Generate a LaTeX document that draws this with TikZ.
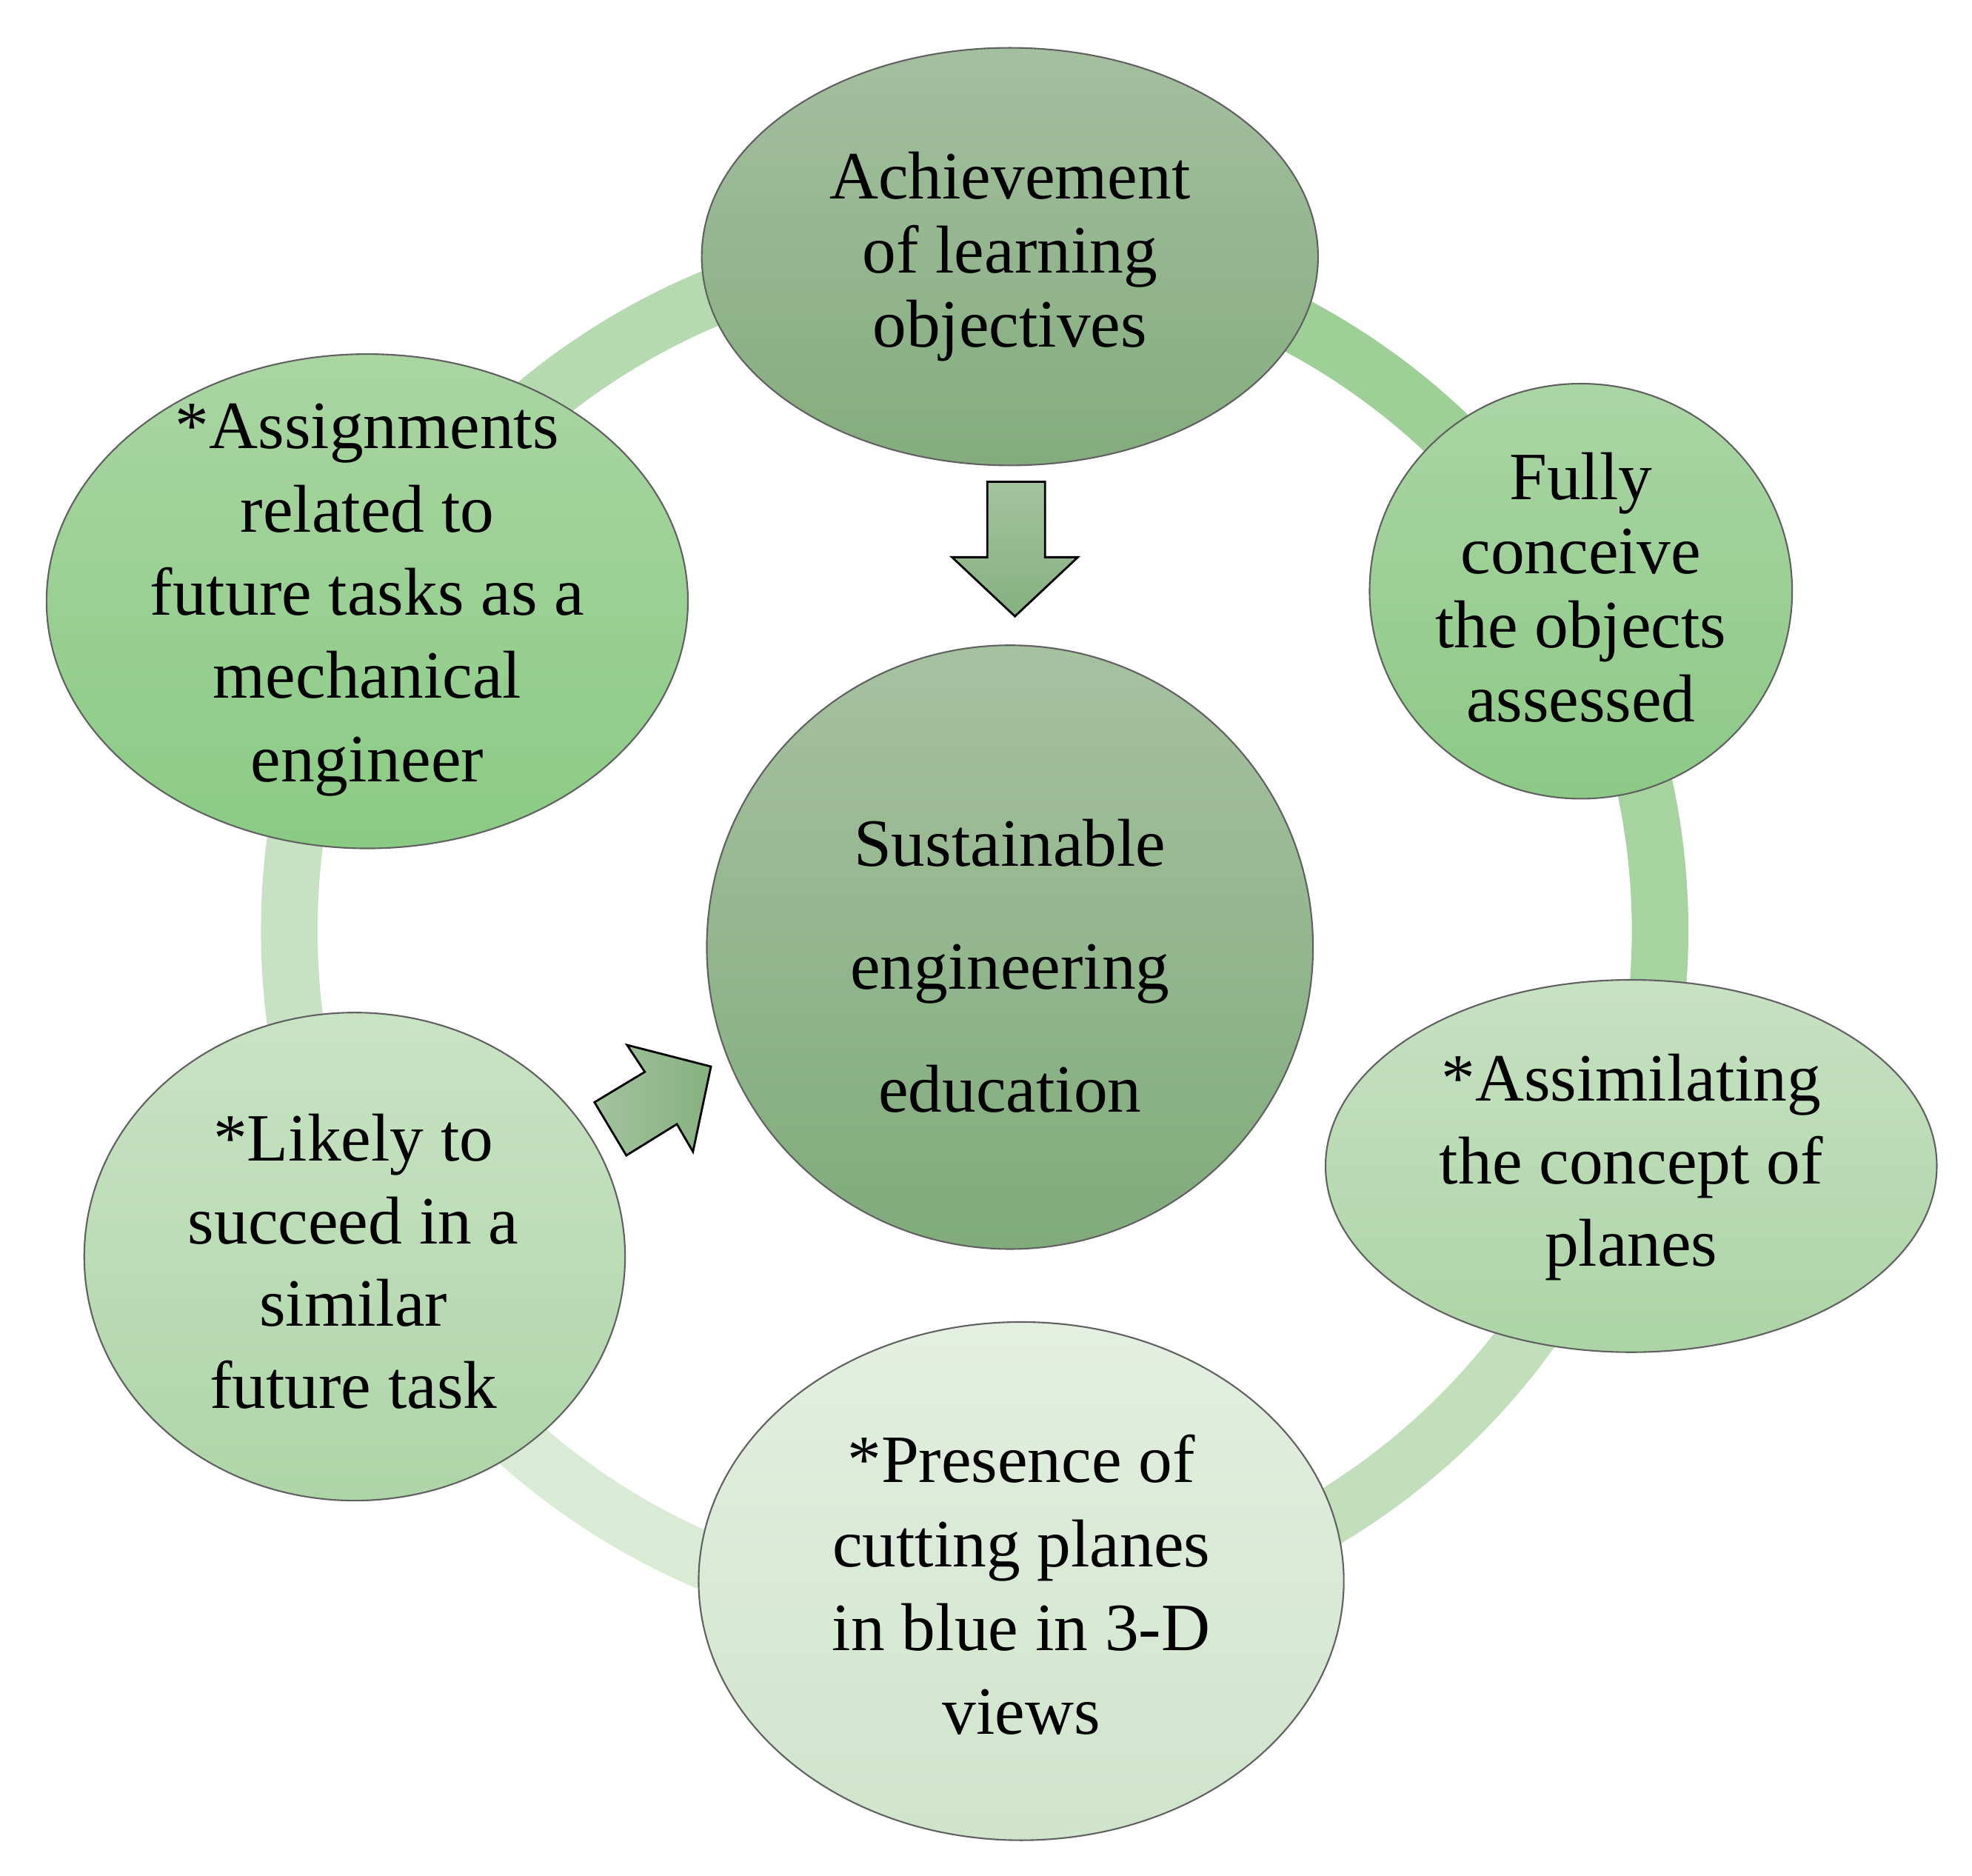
\documentclass[tikz,border=0pt]{standalone}
\usepackage{fontspec}
\setmainfont{Liberation Serif}
\usetikzlibrary{shapes.geometric}
\definecolor{rA}{HTML}{B5DAB0}
\definecolor{rB}{HTML}{9DCF96}
\definecolor{rC}{HTML}{A6D3A0}
\definecolor{rD}{HTML}{C0DFBA}
\definecolor{rE}{HTML}{D9EBD5}
\definecolor{rF}{HTML}{C7E2C2}
\definecolor{achT}{HTML}{A4BF9F}\definecolor{achB}{HTML}{84AC7E}
\definecolor{susT}{HTML}{A6C1A0}\definecolor{susB}{HTML}{80AB7B}
\definecolor{fulT}{HTML}{ABD5A5}\definecolor{fulB}{HTML}{8CC986}
\definecolor{asiT}{HTML}{C7E1C2}\definecolor{asiB}{HTML}{ACD4A6}
\definecolor{preT}{HTML}{E4EFE1}\definecolor{preB}{HTML}{CFE4CB}
\definecolor{likT}{HTML}{C9E3C4}\definecolor{likB}{HTML}{AED5A8}
\definecolor{asgT}{HTML}{AAD5A3}\definecolor{asgB}{HTML}{8ACB84}
\definecolor{arL}{HTML}{A3C39E}\definecolor{arD}{HTML}{86B080}
\tikzset{
  bub/.style={ellipse, draw=black!62, line width=0.6pt, inner sep=0pt, outer sep=0pt},
  lbl/.style={align=center, text=black, inner sep=0pt, font=\fontsize{26}{28.5}\selectfont},
  ringseg/.style={line width=0.764cm, line cap=butt},
  blockarrow/.style={draw=black, line width=0.8pt, line join=miter}
}
\begin{document}
\begin{tikzpicture}[x=0.016983cm, y=-0.016983cm]
\fill[white] (0,0) rectangle (1568,1491);
\useasboundingbox (0,0) rectangle (1568,1491);
% ring
\coordinate (rc) at (775,740);
\begin{scope}[shift={(rc)}]
  \draw[ringseg, rA] (152.5:9.256cm) arc[start angle=152.5, end angle=86, radius=9.256cm];
  \draw[ringseg, rB] (88:9.256cm) arc[start angle=88, end angle=28, radius=9.256cm];
  \draw[ringseg, rC] (30:9.256cm) arc[start angle=30, end angle=-20.7, radius=9.256cm];
  \draw[ringseg, rD] (-18.7:9.256cm) arc[start angle=-18.7, end angle=-87, radius=9.256cm];
  \draw[ringseg, rE] (-85:9.256cm) arc[start angle=-85, end angle=-153, radius=9.256cm];
  \draw[ringseg, rF] (-151:9.256cm) arc[start angle=-151, end angle=-207.5, radius=9.256cm];
\end{scope}
% bubbles
\node[bub, minimum width=8.322cm, minimum height=5.638cm, top color=achT, bottom color=achB] (achS) at (803,204) {};
\node[bub, minimum width=5.706cm, minimum height=5.604cm, top color=fulT, bottom color=fulB] (fulS) at (1257,470) {};
\node[bub, minimum width=8.254cm, minimum height=5.027cm, top color=asiT, bottom color=asiB] (asiS) at (1297,927) {};
\node[bub, minimum width=8.712cm, minimum height=6.997cm, top color=preT, bottom color=preB] (preS) at (812,1257) {};
\node[bub, minimum width=7.303cm, minimum height=6.589cm, top color=likT, bottom color=likB] (likS) at (282,999) {};
\node[bub, minimum width=8.661cm, minimum height=6.674cm, top color=asgT, bottom color=asgB] (asgS) at (292,478) {};
\node[bub, minimum width=8.186cm, minimum height=8.152cm, top color=susT, bottom color=susB] (susS) at (803,753) {};
% labels
\node[lbl] (achL) at (803,204) {Achievement\\of learning\\objectives};
\node[lbl, font=\fontsize{26}{47.3}\selectfont] (susL) at (803,768) {Sustainable\\engineering\\education};
\node[lbl] (fulL) at (1257,467) {Fully\\conceive\\the objects\\assessed};
\node[lbl, font=\fontsize{26}{31.6}\selectfont] (asiL) at (1297,928) {*Assimilating\\the concept of\\planes};
\node[lbl, font=\fontsize{26}{32.2}\selectfont] (preL) at (812,1260) {*Presence of\\cutting planes\\in blue in 3-D\\views};
\node[lbl, font=\fontsize{26}{31.7}\selectfont] (likL) at (281,1003) {*Likely to\\succeed in a\\similar\\future task};
\node[lbl, font=\fontsize{26}{32}\selectfont] (asgL) at (292,477) {*Assignments\\related to\\future tasks as a\\mechanical\\engineer};
% block arrows
\draw[blockarrow, top color=arL, bottom color=arD]
  (785,383) -- (831,383) -- (831,443) -- (857,443) -- (807,490) -- (757,443) -- (785,443) -- cycle;
\draw[blockarrow, left color=arL, right color=arD]
  (498.6,830.8) -- (565.3,847.9) -- (551.0,915.6) -- (538.2,893.7) -- (498.0,918.6) -- (472.7,876.3) -- (512.7,852.2) -- cycle;
\end{tikzpicture}
\end{document}
